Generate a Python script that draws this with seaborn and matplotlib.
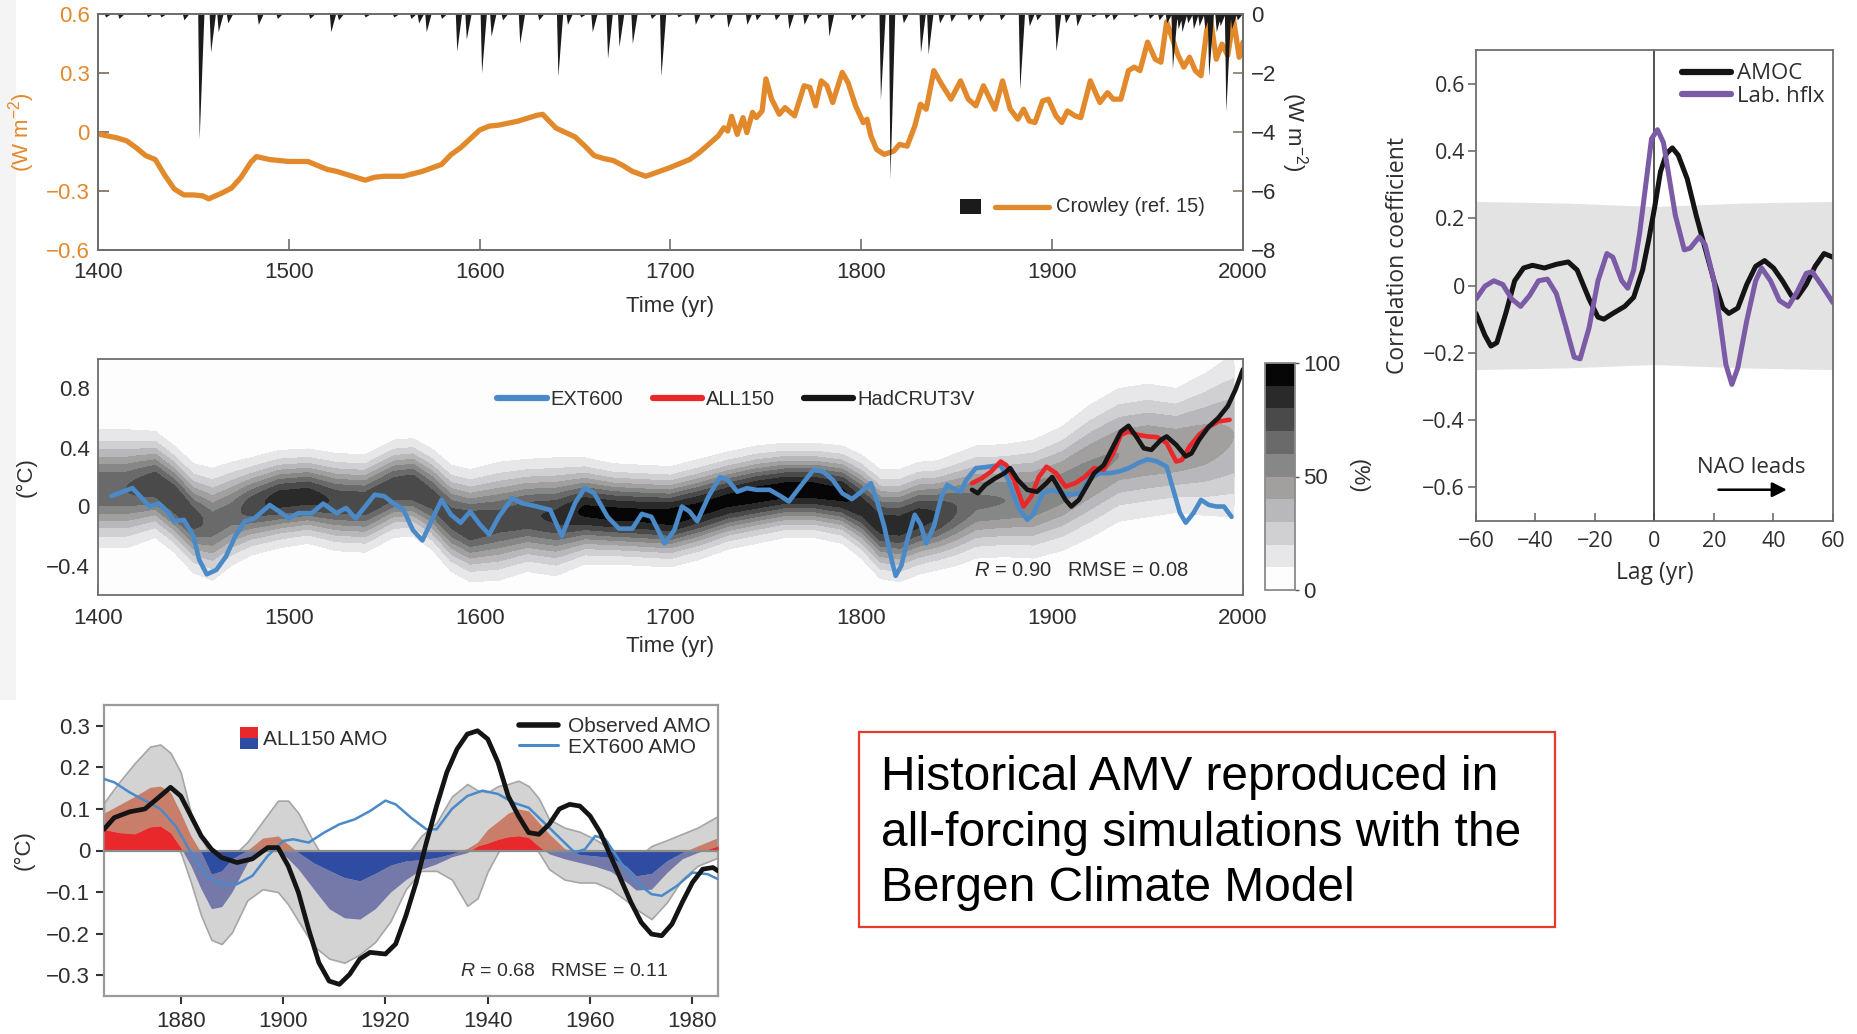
import numpy as np
import matplotlib
matplotlib.use("Agg")
import matplotlib.pyplot as plt
import seaborn as sns
from matplotlib.lines import Line2D
from matplotlib.patches import Rectangle
from matplotlib.ticker import FuncFormatter

# ---------------------------------------------------------------- data
# Crowley solar forcing (W m-2, left axis)
crowley_years = [1400, 1410, 1415, 1420, 1425, 1430, 1435, 1440, 1445, 1450, 1455, 1458, 1465, 1470,
                 1475, 1480, 1483, 1490, 1500, 1510, 1515, 1520, 1525, 1530, 1540, 1545, 1550, 1560,
                 1570, 1580, 1585, 1590, 1600, 1605, 1610, 1620, 1630, 1633, 1640, 1650, 1655, 1660,
                 1665, 1670, 1675, 1680, 1687, 1690, 1700, 1710, 1715, 1720, 1725, 1728, 1730, 1732,
                 1735, 1738, 1740, 1743, 1745, 1748, 1750, 1753, 1757, 1760, 1765, 1770, 1773, 1776,
                 1779, 1782, 1785, 1790, 1793, 1797, 1801, 1803, 1805, 1808, 1812, 1817, 1820, 1824,
                 1828, 1831, 1834, 1838, 1842, 1847, 1852, 1856, 1860, 1864, 1870, 1874, 1878, 1882,
                 1885, 1888, 1891, 1895, 1898, 1902, 1905, 1908, 1912, 1915, 1920, 1925, 1929, 1932,
                 1936, 1940, 1943, 1946, 1950, 1954, 1957, 1960, 1963, 1966, 1969, 1972, 1975, 1978,
                 1981, 1983, 1986, 1989, 1992, 1995, 1998, 2000]
crowley_forcing = [-0.01, -0.03, -0.045, -0.08, -0.12, -0.14, -0.22, -0.29, -0.32, -0.32, -0.325, -0.34,
                   -0.31, -0.285, -0.23, -0.155, -0.125, -0.14, -0.15, -0.15, -0.17, -0.19, -0.2, -0.215,
                   -0.245, -0.23, -0.225, -0.225, -0.2, -0.165, -0.115, -0.08, 0.01, 0.03, 0.035, 0.055,
                   0.085, 0.09, 0.02, -0.025, -0.07, -0.12, -0.135, -0.145, -0.17, -0.2, -0.225, -0.215,
                   -0.18, -0.14, -0.105, -0.063, -0.02, 0.022, 0.005, 0.08, -0.012, 0.073, -0.003, 0.1,
                   0.073, 0.107, 0.27, 0.167, 0.09, 0.124, 0.082, 0.235, 0.227, 0.133, 0.26, 0.235,
                   0.15, 0.303, 0.252, 0.133, 0.048, 0.065, -0.02, -0.089, -0.114, -0.097, -0.063,
                   -0.072, 0.03, 0.141, 0.116, 0.312, 0.244, 0.167, 0.26, 0.167, 0.133, 0.235, 0.116,
                   0.26, 0.116, 0.065, 0.116, 0.056, 0.048, 0.158, 0.167, 0.082, 0.048, 0.107, 0.082,
                   0.073, 0.26, 0.15, 0.2, 0.167, 0.167, 0.312, 0.33, 0.312, 0.457, 0.37, 0.355, 0.56,
                   0.474, 0.389, 0.33, 0.38, 0.312, 0.286, 0.517, 0.575, 0.37, 0.447, 0.389, 0.575,
                   0.38, 0.457]

# Volcanic forcing peaks (W m-2, right axis)
volc_years = [1404, 1411, 1426, 1433, 1445, 1453, 1459, 1463, 1468, 1484, 1494, 1511, 1522, 1526,
              1540, 1555, 1564, 1568, 1572, 1580, 1588, 1593, 1601, 1606, 1612, 1621, 1631, 1641,
              1646, 1653, 1659, 1667, 1673, 1680, 1690, 1695, 1704, 1713, 1721, 1730, 1740, 1745,
              1755, 1762, 1770, 1777, 1783, 1795, 1800, 1810, 1815, 1822, 1831, 1835, 1841, 1847,
              1856, 1862, 1873, 1883, 1888, 1892, 1902, 1907, 1913, 1921, 1928, 1932, 1943, 1951,
              1956, 1960, 1963, 1966, 1968, 1971, 1974, 1977, 1980, 1982, 1986, 1988, 1991, 1994,
              1997]
volc_forcing = [-0.1, -0.15, -0.1, -0.1, -0.2, -4.25, -1.3, -0.6, -0.3, -0.35, -0.15, -0.15, -0.6, -0.2,
                -0.1, -0.1, -0.15, -0.3, -0.6, -0.15, -1.25, -0.85, -2.0, -0.75, -0.2, -1.0, -0.2, -2.1,
                -0.35, -0.1, -0.6, -1.5, -1.1, -1.0, -0.15, -2.1, -0.1, -0.35, -0.15, -0.45, -0.35, -0.2,
                -0.2, -0.5, -0.35, -0.15, -0.75, -0.2, -0.15, -2.9, -5.6, -0.3, -1.3, -1.35, -0.3, -0.25,
                -0.2, -0.25, -0.2, -2.55, -0.4, -0.2, -1.25, -0.3, -0.4, -0.1, -0.15, -0.2, -0.1, -0.15,
                -0.2, -0.3, -1.85, -0.5, -0.6, -0.3, -0.5, -0.4, -0.5, -2.1, -0.6, -0.4, -3.3, -0.5,
                -0.2]

# Reconstruction probability density: centre, 10 %-envelope half width, peak level
band_years = [1400, 1415, 1430, 1440, 1450, 1460, 1470, 1480, 1495, 1510, 1525, 1540, 1555, 1565,
              1575, 1585, 1595, 1610, 1625, 1640, 1655, 1670, 1685, 1700, 1715, 1730, 1745, 1760,
              1775, 1790, 1800, 1810, 1820, 1830, 1840, 1850, 1860, 1875, 1890, 1905, 1920, 1935,
              1950, 1965, 1980, 1995]
band_center = [0.12, 0.12, 0.15, 0.05, -0.08, -0.12, -0.05, 0.0, 0.05, 0.07, 0.03, 0.02, 0.12, 0.13,
               0.05, -0.08, -0.13, -0.1, -0.06, -0.07, -0.03, -0.05, -0.06, -0.07, -0.02, 0.04, 0.08,
               0.11, 0.11, 0.08, 0.0, -0.12, -0.13, -0.08, -0.06, -0.02, 0.03, 0.04, 0.05, 0.12, 0.24,
               0.35, 0.38, 0.38, 0.42, 0.48]
band_halfwidth = [0.40, 0.40, 0.36, 0.36, 0.37, 0.38, 0.35, 0.33, 0.33, 0.32, 0.33, 0.33, 0.33, 0.33,
                  0.34, 0.36, 0.38, 0.40, 0.38, 0.40, 0.36, 0.34, 0.34, 0.34, 0.34, 0.33, 0.33, 0.32,
                  0.32, 0.33, 0.35, 0.37, 0.38, 0.38, 0.37, 0.38, 0.38, 0.38, 0.40, 0.42, 0.45, 0.45,
                  0.45, 0.42, 0.48, 0.55]
band_peak = [0.70, 0.70, 0.78, 0.80, 0.75, 0.65, 0.65, 0.75, 0.85, 0.85, 0.78, 0.78, 0.78, 0.80,
             0.75, 0.75, 0.80, 0.75, 0.78, 0.82, 0.92, 0.93, 0.93, 0.95, 0.93, 0.93, 0.95, 0.95,
             0.95, 0.93, 0.85, 0.85, 0.85, 0.85, 0.80, 0.70, 0.62, 0.60, 0.58, 0.55, 0.52, 0.50,
             0.50, 0.48, 0.45, 0.40]

# Simulated / observed NH temperature (deg C)
ext600_years = [1407, 1413, 1418, 1422, 1427, 1432, 1437, 1440, 1445, 1450, 1453, 1457, 1462, 1467,
                1472, 1477, 1482, 1490, 1495, 1500, 1505, 1512, 1518, 1525, 1530, 1535, 1540, 1545,
                1550, 1555, 1560, 1565, 1570, 1575, 1580, 1585, 1590, 1595, 1600, 1605, 1610, 1617,
                1622, 1630, 1637, 1643, 1650, 1655, 1660, 1667, 1673, 1680, 1685, 1690, 1697, 1702,
                1706, 1710, 1714, 1720, 1726, 1730, 1735, 1740, 1745, 1752, 1758, 1762, 1768, 1775,
                1780, 1785, 1790, 1795, 1800, 1805, 1808, 1812, 1816, 1818, 1821, 1824, 1828, 1831,
                1834, 1838, 1842, 1845, 1848, 1852, 1855, 1860, 1865, 1870, 1873, 1877, 1880, 1883,
                1887, 1890, 1895, 1900, 1905, 1910, 1915, 1920, 1925, 1930, 1935, 1940, 1945, 1950,
                1955, 1960, 1963, 1967, 1970, 1974, 1978, 1982, 1986, 1990, 1994]
ext600_temp = [0.07, 0.10, 0.125, 0.07, 0.0, 0.02, -0.045, -0.1, -0.09, -0.2, -0.36, -0.46, -0.43,
               -0.34, -0.2, -0.1, -0.08, 0.01, -0.034, -0.08, -0.045, -0.045, 0.02, -0.045, -0.01,
               -0.08, 0.0, 0.08, 0.07, 0.02, -0.02, -0.16, -0.23, -0.09, 0.045, -0.056, -0.11, -0.034,
               -0.12, -0.19, -0.07, 0.056, 0.023, 0.0, -0.023, -0.2, 0.023, 0.125, 0.09, -0.07, -0.15,
               -0.15, -0.05, -0.07, -0.25, -0.16, 0.0, -0.034, -0.1, 0.07, 0.2, 0.18, 0.1, 0.124,
               0.113, 0.113, 0.068, 0.034, 0.135, 0.25, 0.237, 0.18, 0.09, 0.05, 0.1, 0.158, 0.045,
               -0.135, -0.37, -0.47, -0.4, -0.23, -0.056, -0.12, -0.25, -0.135, 0.068, 0.147, 0.124,
               0.1, 0.18, 0.26, 0.267, 0.276, 0.28, 0.18, 0.068, -0.023, -0.09, -0.056, 0.09, 0.113,
               0.09, 0.08, 0.09, 0.2, 0.226, 0.226, 0.237, 0.26, 0.294, 0.32, 0.305, 0.27, 0.135,
               -0.045, -0.11, -0.045, 0.045, 0.011, 0.0, 0.0, -0.07]
all150_years = [1858, 1863, 1868, 1873, 1876, 1880, 1885, 1889, 1893, 1897, 1902, 1907, 1912, 1917,
                1922, 1927, 1932, 1936, 1940, 1945, 1950, 1955, 1960, 1965, 1968, 1972, 1977, 1982,
                1987, 1993]
all150_temp = [0.158, 0.19, 0.237, 0.305, 0.28, 0.18, 0.0, 0.068, 0.2, 0.27, 0.226, 0.135, 0.158,
               0.2, 0.26, 0.25, 0.36, 0.486, 0.508, 0.486, 0.475, 0.47, 0.43, 0.305, 0.316, 0.407,
               0.486, 0.54, 0.576, 0.588]
hadcrut_years = [1858, 1861, 1865, 1870, 1875, 1878, 1882, 1887, 1892, 1897, 1900, 1903, 1907, 1910,
                 1914, 1918, 1922, 1927, 1932, 1936, 1940, 1944, 1948, 1952, 1957, 1960, 1965, 1970,
                 1973, 1977, 1982, 1987, 1992, 1996, 2000]
hadcrut_temp = [0.113, 0.09, 0.147, 0.19, 0.226, 0.26, 0.18, 0.113, 0.1, 0.158, 0.2, 0.135, 0.045,
                0.0, 0.045, 0.135, 0.226, 0.28, 0.407, 0.508, 0.547, 0.475, 0.395, 0.384, 0.452,
                0.475, 0.418, 0.34, 0.36, 0.452, 0.54, 0.6, 0.68, 0.79, 0.93]

# Lagged correlation with the NAO
amoc_lag = [-60, -57, -55, -53, -50, -47, -44, -41, -37, -33, -29, -26, -22, -19, -17, -14, -10, -7,
            -4, -2, 0, 2, 4, 6, 8, 11, 14, 17, 20, 23, 25, 28, 31, 34, 37, 40, 43, 46, 48, 51, 54,
            57, 60]
amoc_corr = [-0.083, -0.148, -0.18, -0.17, -0.083, 0.014, 0.052, 0.06, 0.052, 0.063, 0.07, 0.046,
             -0.04, -0.094, -0.1, -0.083, -0.062, -0.035, 0.046, 0.133, 0.23, 0.338, 0.392, 0.409,
             0.387, 0.317, 0.209, 0.111, 0.014, -0.067, -0.083, -0.067, 0.003, 0.057, 0.074, 0.052,
             0.014, -0.03, -0.035, 0.003, 0.057, 0.095, 0.084]
hflx_lag = [-60, -57, -54, -51, -48, -45, -42, -39, -36, -33, -30, -27, -25, -22, -19, -16, -14, -11,
            -9, -7, -5, -3, -1, 1, 3, 5, 7, 10, 12, 15, 17, 20, 22, 24, 26, 28, 31, 34, 36, 39, 42,
            45, 48, 51, 53, 56, 60]
hflx_corr = [-0.04, -0.002, 0.014, 0.003, -0.04, -0.062, -0.03, 0.014, 0.019, -0.024, -0.116, -0.213,
             -0.218, -0.126, 0.014, 0.095, 0.084, 0.014, -0.008, 0.046, 0.155, 0.295, 0.436, 0.463,
             0.425, 0.317, 0.209, 0.106, 0.111, 0.144, 0.122, 0.014, -0.105, -0.235, -0.294, -0.245,
             -0.105, 0.014, 0.052, 0.014, -0.045, -0.062, -0.018, 0.036, 0.041, 0.003, -0.051]
sig_lag = [-60, -30, 0, 30, 60]
sig_hi = [0.25, 0.245, 0.235, 0.245, 0.25]
sig_lo = [-0.25, -0.245, -0.235, -0.245, -0.25]

# AMO index (deg C): ALL150 ensemble spread, inner range, observations and EXT600
amo_years = [1865, 1868, 1871, 1874, 1876, 1878, 1880, 1882, 1884, 1886, 1888, 1890, 1893, 1896,
             1899, 1901, 1903, 1906, 1909, 1912, 1915, 1918, 1921, 1924, 1927, 1930, 1933, 1936,
             1938, 1940, 1942, 1944, 1946, 1948, 1950, 1952, 1955, 1958, 1961, 1964, 1967, 1969,
             1972, 1975, 1978, 1981, 1985]
spread_hi = [0.115, 0.165, 0.21, 0.25, 0.255, 0.235, 0.188, 0.09, 0.035, -0.02, -0.03, -0.015, 0.02,
             0.07, 0.12, 0.12, 0.09, 0.02, -0.04, -0.055, -0.06, -0.05, -0.035, -0.015, 0.035,
             0.067, 0.13, 0.16, 0.145, 0.14, 0.155, 0.16, 0.168, 0.155, 0.125, 0.075, 0.055, 0.045,
             0.027, 0.003, -0.01, -0.02, 0.011, 0.025, 0.04, 0.055, 0.083]
spread_lo = [0.035, 0.04, 0.04, 0.043, 0.04, 0.03, -0.005, -0.077, -0.157, -0.215, -0.225, -0.197,
             -0.12, -0.093, -0.1, -0.13, -0.17, -0.23, -0.26, -0.27, -0.25, -0.22, -0.17, -0.093,
             -0.049, -0.049, -0.07, -0.133, -0.115, -0.05, -0.005, 0.03, 0.035, 0.03, -0.005,
             -0.045, -0.07, -0.077, -0.077, -0.093, -0.12, -0.141, -0.165, -0.125, -0.069, -0.037,
             -0.017]
ens_hi = [0.09, 0.11, 0.13, 0.152, 0.155, 0.14, 0.09, 0.035, -0.005, -0.057, -0.049, -0.02, 0.0,
          0.03, 0.035, 0.015, -0.005, -0.03, -0.048, -0.065, -0.073, -0.055, -0.035, -0.025, -0.022,
          -0.017, -0.008, 0.005, 0.02, 0.051, 0.07, 0.09, 0.1, 0.095, 0.067, 0.04, 0.005, -0.01,
          -0.013, -0.017, -0.037, -0.061, -0.055, -0.025, -0.005, 0.011, 0.031]
ens_lo = [0.051, 0.043, 0.04, 0.057, 0.059, 0.043, 0.007, -0.037, -0.093, -0.14, -0.135, -0.1, -0.03,
          0.005, 0.005, -0.02, -0.045, -0.093, -0.14, -0.162, -0.165, -0.14, -0.1, -0.07, -0.045,
          -0.032, -0.015, -0.005, 0.011, 0.018, 0.027, 0.033, 0.035, 0.031, 0.01, -0.008, -0.02,
          -0.029, -0.038, -0.05, -0.075, -0.095, -0.093, -0.053, -0.02, -0.005, 0.011]
obs_years = [1865, 1867, 1870, 1873, 1876, 1878, 1880, 1882, 1884, 1886, 1888, 1891, 1894, 1897,
             1899, 1901, 1903, 1905, 1907, 1909, 1911, 1913, 1915, 1917, 1920, 1922, 1924, 1926,
             1928, 1930, 1932, 1934, 1936, 1938, 1940, 1942, 1944, 1946, 1948, 1950, 1952, 1954,
             1956, 1958, 1960, 1962, 1964, 1966, 1968, 1970, 1972, 1974, 1976, 1978, 1980, 1982,
             1984, 1985]
obs_amo = [0.051, 0.079, 0.093, 0.1, 0.131, 0.152, 0.131, 0.083, 0.035, 0.003, -0.017, -0.029,
           -0.02, 0.007, 0.007, -0.037, -0.101, -0.19, -0.27, -0.314, -0.322, -0.298, -0.261,
           -0.245, -0.249, -0.225, -0.157, -0.077, 0.019, 0.107, 0.188, 0.244, 0.28, 0.288, 0.268,
           0.212, 0.131, 0.083, 0.043, 0.039, 0.063, 0.1, 0.111, 0.107, 0.083, 0.043, -0.013,
           -0.069, -0.125, -0.173, -0.201, -0.205, -0.177, -0.125, -0.077, -0.045, -0.041, -0.049]
ext_amo_years = [1865, 1867, 1870, 1873, 1876, 1879, 1882, 1885, 1888, 1891, 1894, 1897, 1900, 1902,
                 1905, 1908, 1911, 1914, 1917, 1920, 1922, 1925, 1928, 1930, 1933, 1936, 1939, 1942,
                 1945, 1948, 1951, 1954, 1957, 1959, 1961, 1963, 1966, 1969, 1972, 1974, 1977, 1980,
                 1983, 1985]
ext_amo = [0.172, 0.164, 0.14, 0.12, 0.1, 0.059, -0.005, -0.061, -0.081, -0.081, -0.061, -0.013,
           0.023, 0.027, 0.019, 0.043, 0.063, 0.075, 0.095, 0.12, 0.111, 0.079, 0.051, 0.051, 0.1,
           0.131, 0.144, 0.136, 0.115, 0.103, 0.067, 0.031, -0.005, 0.003, 0.035, 0.027, -0.029,
           -0.077, -0.105, -0.109, -0.085, -0.053, -0.057, -0.069]

headline = "Historical AMV reproduced in\nall-forcing simulations with the\nBergen Climate Model"

# ---------------------------------------------------------------- style
ORANGE = "#E2892C"
BLUE = "#4A8AC9"
RED = "#E8282A"
PURPLE = "#7B5AA6"
TXT = "#2e2e2e"
SPINE = "#6e6e6e"
DENS_COLORS = ["#fdfdfd", "#e7e7e9", "#d0d0d2", "#b8b8bc", "#a29f9f",
               "#868888", "#6a6a6a", "#4a4a4a", "#2a2a2a", "#060606"]

sns.set_theme(style="ticks")
plt.rcParams["font.family"] = ["Liberation Sans", "DejaVu Sans"]
plt.rcParams["mathtext.fontset"] = "custom"
plt.rcParams["mathtext.rm"] = "Liberation Sans"
plt.rcParams["mathtext.it"] = "Liberation Sans:italic"
plt.rcParams["axes.unicode_minus"] = True

W, H = 1858, 1034


def rect(l, t, r, b):
    return [l / W, 1 - b / H, (r - l) / W, (b - t) / H]


def num_label(v, pos=None):
    if abs(v) < 1e-9:
        return "0"
    return f"{v:g}".replace("-", "\u2212")


def style_spines(ax, color=SPINE, lw=1.3):
    for s in ax.spines.values():
        s.set_visible(True)
        s.set_color(color)
        s.set_linewidth(lw)


def volcanic_trace(years, peaks):
    grid = np.arange(1400, 2000.01, 0.25)
    trace = np.zeros_like(grid)
    for yr, pk in zip(years, peaks):
        spike = np.interp(grid, [yr - 0.75, yr, yr + 2.5], [0, pk, 0], left=0, right=0)
        trace = np.minimum(trace, spike)
    return grid, trace


fig = plt.figure(figsize=(W / 100, H / 100), dpi=100)
fig.patch.set_facecolor("white")
fig.patches.append(Rectangle((0, 1 - 700 / H), 16 / W, 700 / H, transform=fig.transFigure,
                             facecolor="#f4f4f4", edgecolor="none", zorder=-5))

# ---------------------------------------------------------------- top: forcing
ax1 = fig.add_axes(rect(98, 14, 1243, 250))
ax1r = ax1.twinx()
vx, vy = volcanic_trace(volc_years, volc_forcing)
ax1r.fill_between(vx, vy, 0, color="#1b1b1b", lw=0)
ax1r.set_ylim(-8, 0)
ax1r.set_yticks([0, -2, -4, -6, -8])
ax1r.yaxis.set_major_formatter(FuncFormatter(num_label))
ax1r.tick_params(axis="y", direction="in", length=7, width=1.2, color="#8a7a6a",
                 labelsize=16, labelcolor=TXT, pad=6)
ax1r.set_ylabel("(W m$^{-2}$)", rotation=270, fontsize=16, color=TXT)
ax1r.yaxis.label.set_va("center")
ax1r.yaxis.set_label_coords(1.045, 0.5)

sns.lineplot(x=crowley_years, y=crowley_forcing, ax=ax1, color=ORANGE, linewidth=3.8,
             estimator=None)
ax1.set_xlim(1400, 2000)
ax1.set_ylim(-0.6, 0.6)
ax1.set_xticks(range(1400, 2001, 100))
ax1.set_yticks([-0.6, -0.3, 0, 0.3, 0.6])
ax1.yaxis.set_major_formatter(FuncFormatter(num_label))
ax1.tick_params(axis="x", direction="in", length=8, width=1.2, color=SPINE,
                labelsize=16, labelcolor=TXT, pad=9)
ax1.tick_params(axis="y", direction="in", length=8, width=1.2, color="#7a6a5a",
                labelsize=16, labelcolor=ORANGE, pad=6)
ax1.set_xlabel("Time (yr)", fontsize=16, color=TXT)
ax1.xaxis.label.set_va("center")
ax1.xaxis.set_label_coords(0.5, -0.24)
ax1.set_ylabel("(W m$^{-2}$)", fontsize=16, color=ORANGE)
ax1.yaxis.label.set_va("center")
ax1.yaxis.set_label_coords(-0.067, 0.5)
style_spines(ax1)
style_spines(ax1r)

# legend: volcanic block + solar line
ax1.add_patch(Rectangle((0.753, 0.153), 0.018, 0.063, transform=ax1.transAxes,
                        facecolor="#1b1b1b", edgecolor="none", clip_on=False, zorder=5))
ax1.add_line(Line2D([0.783, 0.831], [0.184, 0.184], transform=ax1.transAxes,
                    color=ORANGE, lw=3.8, zorder=5))
ax1.text(0.837, 0.184, "Crowley (ref. 15)", transform=ax1.transAxes, fontsize=14.5,
         color=TXT, va="center", ha="left")

# ---------------------------------------------------------------- middle: temperature
ax2 = fig.add_axes(rect(98, 359, 1243, 595))
gx = np.arange(1400, 2000.01, 1.0)
gy = np.linspace(-0.6, 1.0, 321)
cen = np.interp(gx, band_years, band_center)
hw = np.interp(gx, band_years, band_halfwidth)
pk = np.interp(gx, band_years, band_peak)
sig = hw / np.sqrt(2 * np.log(pk / 0.1))
dens = 100 * pk[None, :] * np.exp(-0.5 * ((gy[:, None] - cen[None, :]) / sig[None, :]) ** 2)
dens[:, gx > band_years[-1]] = 0
cs = ax2.contourf(gx, gy, dens, levels=np.arange(0, 101, 10), colors=DENS_COLORS)

sns.lineplot(x=ext600_years, y=ext600_temp, ax=ax2, color=BLUE, linewidth=3.3, estimator=None)
sns.lineplot(x=all150_years, y=all150_temp, ax=ax2, color=RED, linewidth=3.3, estimator=None)
sns.lineplot(x=hadcrut_years, y=hadcrut_temp, ax=ax2, color="#151515", linewidth=3.3,
             estimator=None)
ax2.set_xlim(1400, 2000)
ax2.set_ylim(-0.6, 1.0)
ax2.set_xticks(range(1400, 2001, 100))
ax2.set_yticks([-0.4, 0, 0.4, 0.8])
ax2.yaxis.set_major_formatter(FuncFormatter(num_label))
ax2.tick_params(axis="both", direction="in", length=8, width=1.2, color=SPINE,
                labelsize=16, labelcolor=TXT)
ax2.tick_params(axis="x", pad=9)
ax2.tick_params(axis="y", pad=6)
ax2.set_xlabel("Time (yr)", fontsize=16, color=TXT)
ax2.xaxis.label.set_va("center")
ax2.xaxis.set_label_coords(0.5, -0.22)
ax2.set_ylabel("(\u00b0C)", fontsize=16, color=TXT)
ax2.yaxis.label.set_va("center")
ax2.yaxis.set_label_coords(-0.063, 0.5)
style_spines(ax2)
ax2.legend(handles=[Line2D([], [], color=BLUE, lw=4.5),
                    Line2D([], [], color=RED, lw=4.5),
                    Line2D([], [], color="#151515", lw=4.5)],
           labels=["EXT600", "ALL150", "HadCRUT3V"], ncol=3, frameon=False,
           loc="center left", bbox_to_anchor=(0.34, 0.83), borderpad=0, fontsize=14.5,
           handlelength=2.45, handletextpad=0.2, columnspacing=1.45, labelcolor=TXT)
ax2.text(0.765, 0.105, "$R$ = 0.90   RMSE = 0.08", transform=ax2.transAxes, fontsize=14.5,
         color=TXT, va="center", ha="left")

cax = fig.add_axes(rect(1265, 363, 1295, 590))
cb = fig.colorbar(cs, cax=cax, ticks=[0, 50, 100])
cb.outline.set_edgecolor("#8a8a8a")
cb.outline.set_linewidth(1.3)
cax.tick_params(length=3, width=1, color="#555", labelsize=16, labelcolor=TXT, pad=3)
cb.set_label("(%)", rotation=270, fontsize=16, color=TXT)
cax.yaxis.label.set_va("center")
cax.yaxis.set_label_coords(3.1, 0.5)

# ---------------------------------------------------------------- right: lag correlation
ax3 = fig.add_axes(rect(1476, 50, 1833, 521))
ax3.fill_between(sig_lag, sig_lo, sig_hi, color="#e3e3e3", lw=0)
ax3.axvline(0, color="#444444", lw=1.3, zorder=1)
sns.lineplot(x=amoc_lag, y=amoc_corr, ax=ax3, color="#141414", linewidth=3.6, estimator=None)
sns.lineplot(x=hflx_lag, y=hflx_corr, ax=ax3, color=PURPLE, linewidth=3.6, estimator=None)
ax3.set_xlim(-60, 60)
ax3.set_ylim(-0.7, 0.7)
ax3.set_xticks(range(-60, 61, 20))
ax3.set_yticks([-0.6, -0.4, -0.2, 0, 0.2, 0.4, 0.6])
ax3.xaxis.set_major_formatter(FuncFormatter(num_label))
ax3.yaxis.set_major_formatter(FuncFormatter(num_label))
rfam = ["Open Sans", "DejaVu Sans"]
ax3.tick_params(axis="x", direction="in", length=6, width=1.2, color=SPINE,
                labelsize=15.5, labelcolor=TXT, pad=7)
ax3.tick_params(axis="y", direction="out", length=6, width=1.2, color=SPINE,
                labelsize=15.5, labelcolor=TXT, pad=2)
for lab in ax3.get_xticklabels() + ax3.get_yticklabels():
    lab.set_family(rfam)
ax3.set_xlabel("Lag (yr)", fontsize=16.5, color=TXT, fontfamily=rfam)
ax3.xaxis.label.set_va("center")
ax3.xaxis.set_label_coords(0.5, -0.11)
ax3.set_ylabel("Correlation coefficient", fontsize=16.5, color=TXT, fontfamily=rfam)
ax3.yaxis.label.set_va("center")
ax3.yaxis.set_label_coords(-0.218, 0.563)
style_spines(ax3)
leg3 = ax3.legend(handles=[Line2D([], [], color="#141414", lw=4.5),
                           Line2D([], [], color=PURPLE, lw=4.5)],
                  labels=["AMOC", "Lab. hflx"], loc="upper left", bbox_to_anchor=(0.545, 0.995),
                  frameon=False, borderpad=0, handlelength=2.2, handletextpad=0.3,
                  labelspacing=0.05, prop={"family": rfam, "size": 16})
for t in leg3.get_texts():
    t.set_color(TXT)
ax3.text(32.4, -0.542, "NAO leads", ha="center", va="center", fontsize=16, color=TXT,
         fontfamily=rfam)
ax3.annotate("", xy=(44.5, -0.607), xytext=(21.5, -0.607),
             arrowprops=dict(arrowstyle="-|>", color="black", lw=1.8, mutation_scale=22,
                             shrinkA=0, shrinkB=0))

# ---------------------------------------------------------------- bottom: AMO index
ax4 = fig.add_axes(rect(104, 705, 718, 996))
fine = np.arange(amo_years[0], amo_years[-1] + 0.01, 0.1)
s_hi = np.interp(fine, amo_years, spread_hi)
s_lo = np.interp(fine, amo_years, spread_lo)
e_hi = np.interp(fine, amo_years, ens_hi)
e_lo = np.interp(fine, amo_years, ens_lo)
ax4.fill_between(fine, s_lo, s_hi, facecolor="#d3d3d3", edgecolor="#a6a6a6", lw=1.2, zorder=1)
ax4.fill_between(fine, np.maximum(e_lo, 0), np.maximum(e_hi, 0), color="#c97e6a", lw=0, zorder=2)
ax4.fill_between(fine, np.minimum(e_lo, 0), np.minimum(e_hi, 0), color="#7579a9", lw=0, zorder=2)
ax4.fill_between(fine, 0, np.maximum(e_lo, 0), color=RED, lw=0, zorder=3)
ax4.fill_between(fine, np.minimum(e_hi, 0), 0, color="#2f4ca3", lw=0, zorder=3)
ax4.axhline(0, color="#8c8c8c", lw=1.6, zorder=4)
sns.lineplot(x=ext_amo_years, y=ext_amo, ax=ax4, color=BLUE, linewidth=1.8, estimator=None,
             zorder=5)
sns.lineplot(x=obs_years, y=obs_amo, ax=ax4, color="#141414", linewidth=3.4, estimator=None,
             zorder=6)
ax4.set_xlim(1865, 1985)
ax4.set_ylim(-0.35, 0.35)
ax4.set_xticks(range(1880, 1981, 20))
ax4.set_yticks([-0.3, -0.2, -0.1, 0, 0.1, 0.2, 0.3])
ax4.yaxis.set_major_formatter(FuncFormatter(num_label))
ax4.tick_params(axis="both", direction="out", length=6, width=1.5, color="#333333",
                labelsize=16, labelcolor=TXT)
ax4.tick_params(axis="x", pad=5)
ax4.tick_params(axis="y", pad=4)
ax4.set_ylabel("(\u00b0C)", fontsize=16, color=TXT)
ax4.yaxis.label.set_va("center")
ax4.yaxis.set_label_coords(-0.13, 0.5)
style_spines(ax4, color="#9a9a9a", lw=1.6)
ax4.add_patch(Rectangle((1891.6, 0.27), 3.5, 0.027, facecolor=RED, edgecolor="none", zorder=7))
ax4.add_patch(Rectangle((1891.6, 0.243), 3.5, 0.027, facecolor="#2f4ca3", edgecolor="none",
                        zorder=7))
ax4.text(1896.0, 0.268, "ALL150 AMO", fontsize=15, color=TXT, va="center", ha="left")
ax4.legend(handles=[Line2D([], [], color="#141414", lw=4), Line2D([], [], color=BLUE, lw=2.2)],
           labels=["Observed AMO", "EXT600 AMO"], loc="upper right", bbox_to_anchor=(1.008, 1.0),
           frameon=False, borderpad=0.1, handlelength=1.9, handletextpad=0.45,
           labelspacing=0.05, fontsize=15, labelcolor=TXT)
ax4.text(1934.5, -0.29, "$R$ = 0.68   RMSE = 0.11", fontsize=14, color=TXT, va="center",
         ha="left")

# ---------------------------------------------------------------- headline box
fig.patches.append(Rectangle((859 / W, 1 - 927 / H), 696 / W, 195 / H, transform=fig.transFigure,
                             facecolor="white", edgecolor="#e63a2c", lw=1.6, zorder=1))
fig.text(881 / W, 1 - 755 / H, headline, fontsize=34.5, color="black", ha="left", va="top",
         linespacing=1.3, fontfamily=["Liberation Sans", "DejaVu Sans"])

fig.savefig("out.png", dpi=100, facecolor="white")
